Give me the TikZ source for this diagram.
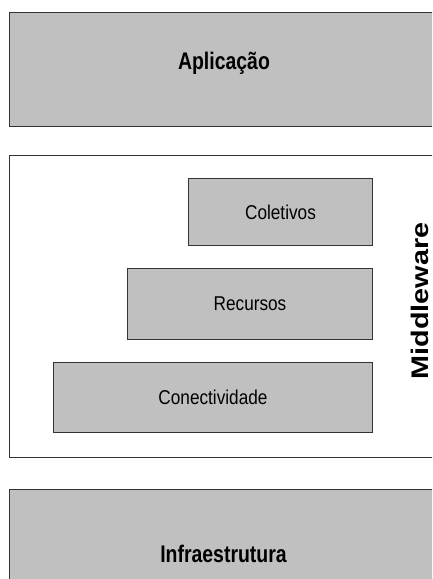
\documentclass[tikz,border=0pt]{standalone}
\usepackage{fontspec}
\setmainfont{Liberation Sans}
\newfontfamily\narrowfont{Liberation Sans}[FakeStretch=0.81]
\newfontfamily\smallnarrowfont{Liberation Sans}[FakeStretch=0.86]
\newfontfamily\widefont{Liberation Sans}[FakeStretch=1.2]
\definecolor{boxgray}{HTML}{C0C0C0}
\definecolor{edge}{HTML}{333333}
\tikzset{
  layerbox/.style={draw=edge, line width=1pt, fill=boxgray, rectangle, inner sep=0pt},
  framebox/.style={draw=edge, line width=1pt, fill=white, rectangle, inner sep=0pt},
  bigtext/.style={font=\narrowfont\bfseries\fontsize{24}{29}\selectfont, inner sep=0pt, anchor=base},
  smalltext/.style={font=\smallnarrowfont\fontsize{20}{24}\selectfont},
  sidetext/.style={font=\widefont\bfseries\fontsize{24}{28}\selectfont, inner sep=0pt, anchor=base, rotate=90}
}
\begin{document}
\begin{tikzpicture}[x=1pt,y=-1pt]
\useasboundingbox (0,0) rectangle (432,579);
\clip (0,0) rectangle (432,579);
% top layer
\node[layerbox, minimum width=431pt, minimum height=114pt, anchor=north west] (app) at (9,12) {};
\node[bigtext] (apptxt) at (224,69.5) {Aplicação};
% middleware frame
\node[framebox, minimum width=431pt, minimum height=302pt, anchor=north west] (mw) at (9,155) {};
\node[layerbox, smalltext, minimum width=184pt, minimum height=67pt, anchor=north west] (col) at (188,178) {Coletivos};
\node[layerbox, smalltext, minimum width=245pt, minimum height=71pt, anchor=north west] (rec) at (127,268) {Recursos};
\node[layerbox, smalltext, minimum width=319pt, minimum height=70pt, anchor=north west] (con) at (53,362) {Conectividade};
\node[sidetext] (mwtxt) at (428,301) {Middleware};
% bottom layer
\node[layerbox, minimum width=431pt, minimum height=100pt, anchor=north west] (infra) at (9,489) {};
\node[bigtext] (infratxt) at (223.5,562.7) {Infraestrutura};
\end{tikzpicture}
\end{document}
